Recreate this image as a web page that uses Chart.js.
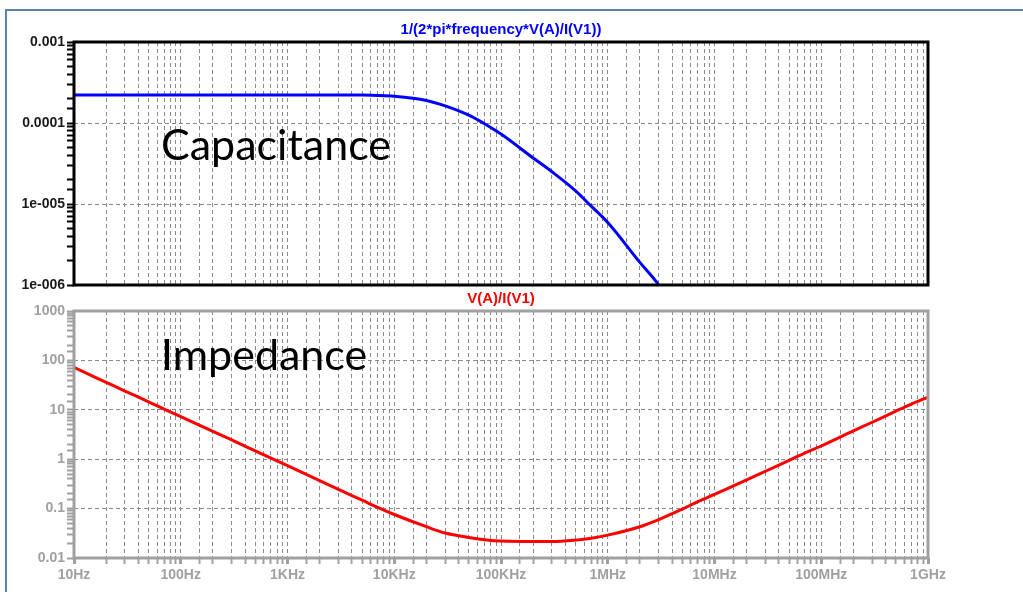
<!DOCTYPE html>
<html>
<head>
<meta charset="utf-8">
<script src="https://cdn.jsdelivr.net/npm/chart.js@4"></script>
<style>
  html, body { margin: 0; padding: 0; background: #fff; }
  body { width: 1023px; height: 592px; position: relative; overflow: hidden; }
  #frame { position: absolute; left: 5px; top: 9px; width: 1100px; height: 700px;
           border-top: 2px solid #5682ae; border-left: 2px solid #5682ae; }
  .box { position: absolute; left: 0; width: 1023px; }
  #topBox { top: 0; height: 300px; }
  #bottomBox { top: 286px; height: 306px; }
</style>
</head>
<body>
<div id="frame"></div>
<div class="box" id="topBox"><canvas id="capChart"></canvas></div>
<div class="box" id="bottomBox"><canvas id="impChart"></canvas></div>
<script>
// frequency points (Hz)
const frequencies = [
  10, 20, 30, 50, 70,
  100, 200, 300, 500, 700,
  1e3, 2e3, 3e3, 5e3, 7e3,
  1e4, 2e4, 3e4, 5e4, 7e4,
  1e5, 2e5, 3e5, 5e5, 7e5,
  1e6, 2e6, 3e6, 5e6, 7e6,
  1e7, 2e7, 3e7, 5e7, 7e7,
  1e8, 2e8, 3e8, 5e8, 7e8,
  1e9
];

// 1/(2*pi*f*V(A)/I(V1))
const capacitance = [
  2.22e-4, 2.22e-4, 2.22e-4, 2.22e-4, 2.22e-4,
  2.22e-4, 2.22e-4, 2.22e-4, 2.22e-4, 2.22e-4,
  2.22e-4, 2.22e-4, 2.22e-4, 2.21e-4, 2.19e-4,
  2.14e-4, 1.9e-4, 1.63e-4, 1.25e-4, 9.8e-5,
  7.3e-5, 3.7e-5, 2.5e-5, 1.45e-5, 9.4e-6,
  5.9e-6, 1.9e-6, 1.0e-6, 3.3e-7, null,
  null, null, null, null, null,
  null, null, null, null, null,
  null
];

// V(A)/I(V1)
const impedance = [
  72, 36, 24, 14.5, 10.3,
  7.3, 3.65, 2.45, 1.47, 1.05,
  0.74, 0.37, 0.245, 0.148, 0.106,
  0.076, 0.043, 0.032, 0.026, 0.0235,
  0.022, 0.0215, 0.0215, 0.023, 0.025,
  0.029, 0.043, 0.06, 0.098, 0.138,
  0.195, 0.38, 0.57, 0.95, 1.33,
  1.85, 3.75, 5.6, 9.4, 13.1,
  18
];

const freqLabels = ['10Hz', '100Hz', '1KHz', '10KHz', '100KHz', '1MHz', '10MHz', '100MHz', '1GHz'];
const capTickLabels = ['1e-006', '1e-005', '0.0001', '0.001'];
const impTickLabels = ['0.01', '0.1', '1', '10', '100', '1000'];

const GRID = '#8a8a8a';
const DASH = [4, 3];

const isDecade = (v) => Math.abs(Math.log10(v) - Math.round(Math.log10(v))) < 1e-6;

// box around the plot, the trace name on top and the big caption
const framePlugin = {
  id: 'framePlugin',
  afterDraw(chart, args, opts) {
    const { ctx, chartArea: a } = chart;
    ctx.save();
    ctx.strokeStyle = opts.boxColor;
    ctx.lineWidth = 3;
    ctx.strokeRect(a.left, a.top, a.right - a.left, a.bottom - a.top);

    ctx.font = 'bold 15px "Liberation Sans", Arial, sans-serif';
    ctx.fillStyle = opts.titleColor;
    ctx.textAlign = 'center';
    ctx.textBaseline = 'middle';
    ctx.fillText(opts.title, (a.left + a.right) / 2, a.top - 12);

    ctx.font = '43px Lato, "Open Sans", sans-serif';
    ctx.fillStyle = '#000';
    ctx.textAlign = 'left';
    ctx.textBaseline = 'alphabetic';
    ctx.fillText(opts.caption, a.left + 87, a.top + opts.captionDy);
    ctx.restore();
  }
};

const makeChart = (canvasId, cfg) => {
  const points = frequencies.map((f, i) => ({ x: f, y: cfg.values[i] }));
  return new Chart(document.getElementById(canvasId), {
    type: 'line',
    data: {
      datasets: [{
        data: points,
        borderColor: cfg.lineColor,
        borderWidth: 3,
        pointRadius: 0,
        cubicInterpolationMode: 'monotone',
        spanGaps: false
      }]
    },
    options: {
      responsive: true,
      maintainAspectRatio: false,
      animation: false,
      layout: { padding: { top: cfg.padTop, bottom: cfg.padBottom, left: 0, right: 95 } },
      plugins: {
        legend: { display: false },
        tooltip: { enabled: false },
        framePlugin: {
          boxColor: cfg.boxColor,
          title: cfg.title,
          titleColor: cfg.lineColor,
          caption: cfg.caption,
          captionDy: cfg.captionDy
        }
      },
      scales: {
        x: {
          type: 'logarithmic',
          min: 10,
          max: 1e9,
          afterFit: (s) => { s.height = cfg.xHeight; },
          border: { display: false, dash: DASH },
          grid: {
            color: GRID,
            lineWidth: 1,
            drawTicks: cfg.showX,
            tickLength: 6,
            tickColor: cfg.boxColor,
            tickWidth: (c) => (c.tick && isDecade(c.tick.value) ? 3 : 2)
          },
          ticks: {
            display: cfg.showX,
            autoSkip: false,
            maxRotation: 0,
            padding: 3,
            color: '#a0a0a0',
            font: { family: '"Liberation Sans", Arial, sans-serif', size: 14, weight: 'bold' },
            callback: (v) => (isDecade(v) ? freqLabels[Math.round(Math.log10(v)) - 1] : '')
          }
        },
        y: {
          type: 'logarithmic',
          min: cfg.yMin,
          max: cfg.yMax,
          afterFit: (s) => { s.width = 74; },
          border: { display: false, dash: DASH },
          grid: {
            color: (c) => (c.tick && isDecade(c.tick.value) ? GRID : 'rgba(0,0,0,0)'),
            lineWidth: 1,
            drawTicks: true,
            tickLength: 7,
            tickColor: cfg.boxColor,
            tickWidth: 2
          },
          ticks: {
            autoSkip: false,
            padding: 2,
            color: cfg.yLabelColor,
            font: { family: '"Liberation Sans", Arial, sans-serif', size: 14, weight: 'bold' },
            callback: (v) => {
              if (!isDecade(v)) return '';
              const k = Math.round(Math.log10(v) - Math.log10(cfg.yMin));
              return cfg.yLabels[k];
            }
          }
        }
      }
    },
    plugins: [framePlugin]
  });
};

makeChart('capChart', {
  values: capacitance,
  lineColor: '#0000ff',
  boxColor: '#000000',
  yLabelColor: '#1a1a1a',
  title: '1/(2*pi*frequency*V(A)/I(V1))',
  caption: 'Capacitance',
  captionDy: 118,
  yMin: 1e-6,
  yMax: 1e-3,
  yLabels: capTickLabels,
  padTop: 42,
  padBottom: 15,
  xHeight: 0,
  showX: false
});

makeChart('impChart', {
  values: impedance,
  lineColor: '#ff0000',
  boxColor: '#a0a0a0',
  yLabelColor: '#a0a0a0',
  title: 'V(A)/I(V1)',
  caption: 'Impedance',
  captionDy: 59,
  yMin: 0.01,
  yMax: 1000,
  yLabels: impTickLabels,
  padTop: 25,
  padBottom: 0,
  xHeight: 34,
  showX: true
});
</script>
</body>
</html>
